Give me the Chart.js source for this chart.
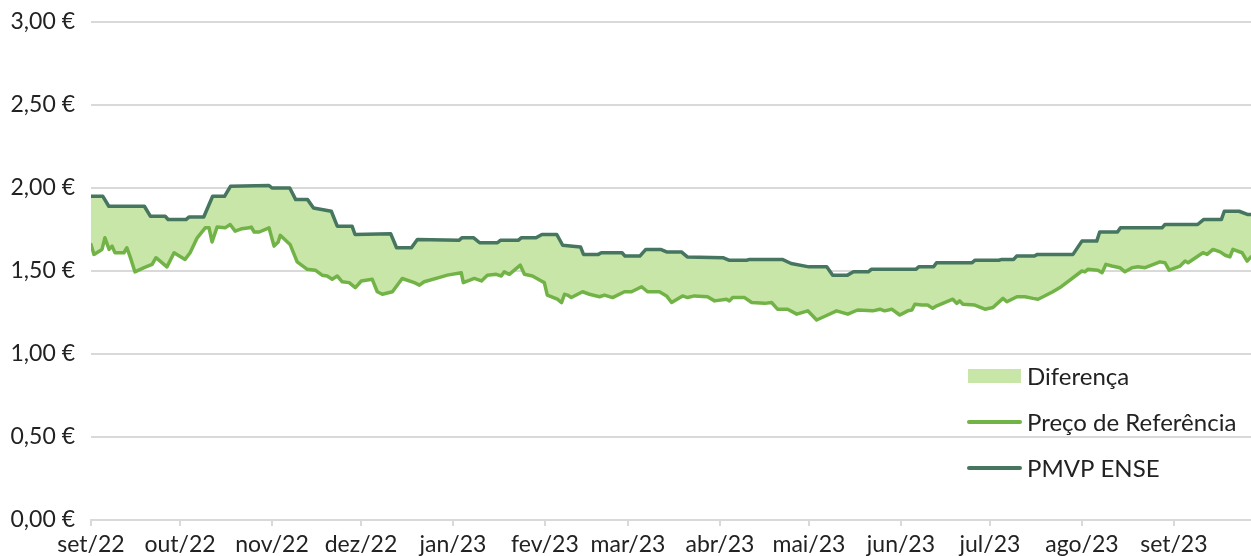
<!DOCTYPE html>
<html>
<head>
<meta charset="utf-8">
<script src="https://cdn.jsdelivr.net/npm/chart.js@4"></script>
<style>
  body { margin: 0; background: #fff; }
  #wrap { width: 1251px; height: 556px; position: relative; }
</style>
</head>
<body>
<div id="wrap"><canvas id="myChart"></canvas></div>
<script>
// dias contados a partir de 1 set 2022
const monthDays = [0, 30, 61, 91, 122, 153, 181, 212, 242, 273, 303, 334, 365];
const monthLabels = ['set/22', 'out/22', 'nov/22', 'dez/22', 'jan/23', 'fev/23', 'mar/23',
    'abr/23', 'mai/23', 'jun/23', 'jul/23', 'ago/23', 'set/23'];

const pmvpDays = [0, 4, 6, 18, 20, 25, 26, 32, 33, 38, 41, 45, 47, 60, 61, 67, 69, 73, 75, 81, 83, 88, 89,
    101, 103, 108, 110, 124, 125, 129, 131, 137, 138, 144, 145, 150, 152, 157, 159, 165, 166, 171, 172,
    179, 180, 185, 187, 192, 194, 199, 201, 213, 215, 221, 222, 233, 236, 242, 248, 250, 255, 257, 262,
    263, 278, 279, 284, 285, 297, 298, 306, 307, 311, 312, 318, 319, 331, 334, 339, 340, 346, 347, 361,
    362, 373, 375, 381, 382, 387, 390, 391];
const pmvpPrices = [1.95, 1.95, 1.89, 1.89, 1.83, 1.83, 1.81, 1.81, 1.825, 1.825, 1.95, 1.95, 2.01, 2.015,
    2.00, 2.00, 1.93, 1.93, 1.88, 1.86, 1.77, 1.77, 1.72, 1.725, 1.64, 1.64, 1.69, 1.685, 1.70, 1.70, 1.67,
    1.67, 1.685, 1.685, 1.70, 1.70, 1.72, 1.72, 1.655, 1.645, 1.60, 1.60, 1.61, 1.61, 1.59, 1.59, 1.63, 1.63,
    1.615, 1.615, 1.585, 1.58, 1.565, 1.565, 1.57, 1.57, 1.545, 1.525, 1.525, 1.475, 1.475, 1.495, 1.495,
    1.51, 1.51, 1.525, 1.525, 1.55, 1.55, 1.565, 1.565, 1.57, 1.57, 1.59, 1.59, 1.60, 1.60, 1.68, 1.68,
    1.735, 1.735, 1.76, 1.76, 1.78, 1.78, 1.81, 1.81, 1.86, 1.86, 1.84, 1.84];

const refDays = [0, 1, 3.7, 4.7, 6.1, 7.1, 8.1, 11.1, 12.1, 13.2, 14.8, 17.9, 20.6, 21.9, 25.6, 28, 31.7,
    33.4, 35.8, 38.5, 39.8, 40.8, 42.5, 45.2, 46.9, 48.6, 50.9, 53.3, 54, 55, 56.7, 60, 61.7, 63.1, 63.8,
    67.1, 69.5, 72.9, 75.6, 77.9, 79.6, 81.3, 83, 84.7, 87, 89.1, 91.1, 94.8, 96.5, 98.2, 101.6, 104.9, 109,
    110.7, 112.3, 118.1, 120.1, 124.8, 125.5, 129.2, 131.6, 133.6, 136.6, 138.3, 139.3, 141, 144.7, 146.1,
    148.8, 151.8, 152.8, 153.8, 157.2, 158.6, 159.6, 160.6, 161.9, 165.7, 168, 171.4, 173.1, 175.8, 179.8,
    182.2, 185.6, 187.6, 191.6, 194, 195.7, 199.4, 201.1, 203.4, 207.8, 210.2, 214.2, 215.2, 216.3, 220.3,
    222.7, 227.1, 229.4, 231.4, 234.8, 237.9, 241.6, 244.6, 248.3, 251.3, 255.1, 258.4, 263.5, 265.9, 267.5,
    269.9, 272.6, 275.3, 276.7, 277.7, 280, 282, 283.7, 285.1, 287.1, 290.5, 291.8, 292.8, 293.9, 297.9,
    301.3, 304, 307.4, 308.7, 312.1, 314.8, 317.5, 319.2, 320.9, 324.2, 326.6, 334, 335, 336, 339.4, 340.8,
    342.1, 344.1, 346.8, 348.5, 350.9, 352.9, 355.3, 360.3, 362, 363.4, 367.1, 368.8, 369.8, 374.8, 376.2,
    378.2, 380.6, 382.3, 383.9, 384.9, 388, 389.7, 391];
const refPrices = [1.66, 1.60, 1.63, 1.70, 1.63, 1.65, 1.61, 1.61, 1.64, 1.585, 1.495, 1.52, 1.54, 1.58,
    1.525, 1.61, 1.57, 1.61, 1.70, 1.76, 1.76, 1.675, 1.765, 1.76, 1.78, 1.74, 1.755, 1.76, 1.765, 1.735,
    1.735, 1.76, 1.65, 1.675, 1.715, 1.66, 1.555, 1.51, 1.505, 1.475, 1.47, 1.45, 1.47, 1.435, 1.43, 1.40,
    1.44, 1.45, 1.375, 1.36, 1.375, 1.455, 1.43, 1.415, 1.435, 1.465, 1.475, 1.49, 1.43, 1.455, 1.44, 1.475,
    1.48, 1.47, 1.495, 1.48, 1.535, 1.48, 1.47, 1.44, 1.43, 1.355, 1.33, 1.31, 1.36, 1.355, 1.34, 1.375,
    1.36, 1.345, 1.355, 1.34, 1.375, 1.375, 1.405, 1.375, 1.375, 1.35, 1.31, 1.35, 1.34, 1.35, 1.345, 1.32,
    1.33, 1.32, 1.34, 1.34, 1.31, 1.305, 1.31, 1.27, 1.27, 1.24, 1.26, 1.205, 1.235, 1.26, 1.24, 1.265, 1.26,
    1.27, 1.26, 1.27, 1.235, 1.26, 1.265, 1.30, 1.295, 1.295, 1.275, 1.29, 1.305, 1.33, 1.305, 1.32, 1.30,
    1.295, 1.27, 1.28, 1.335, 1.315, 1.345, 1.345, 1.335, 1.33, 1.345, 1.375, 1.40, 1.50, 1.495, 1.51,
    1.505, 1.49, 1.54, 1.53, 1.52, 1.495, 1.52, 1.525, 1.52, 1.555, 1.55, 1.505, 1.53, 1.56, 1.55, 1.61,
    1.60, 1.63, 1.615, 1.595, 1.585, 1.63, 1.61, 1.56, 1.585];

const FONT = 'Lato';
const darkGreen = '#467560';
const lightGreen = '#72b347';
const fillGreen = '#c8e6a8';
const gridGray = '#d9d9d9';

const toPoints = (days, vals) => days.map((d, i) => ({ x: d, y: vals[i] }));

// legenda dentro da area do grafico, canto inferior direito
const insideLegend = {
    id: 'insideLegend',
    afterDraw(chart) {
        const ctx = chart.ctx;
        const a = chart.chartArea;
        const x0 = a.right - 283;
        let y = a.top + 354;
        ctx.save();
        ctx.font = '24px ' + FONT;
        ctx.fillStyle = '#222';
        ctx.textBaseline = 'middle';
        chart.data.datasets.forEach(ds => {
            if (ds.label === 'Diferença') {
                ctx.fillStyle = ds.backgroundColor;
                ctx.fillRect(x0, y - 7, 53, 14);
            } else {
                ctx.strokeStyle = ds.borderColor;
                ctx.lineWidth = 4;
                ctx.lineCap = 'round';
                ctx.beginPath();
                ctx.moveTo(x0 + 1, y);
                ctx.lineTo(x0 + 52, y);
                ctx.stroke();
            }
            ctx.fillStyle = '#222';
            ctx.fillText(ds.label, x0 + 59, y + 1);
            y += 46;
        });
        ctx.restore();
    }
};

var ctx = document.getElementById('myChart').getContext('2d');
var myChart = new Chart(ctx, {
    type: 'line',
    data: {
        datasets: [{
            label: 'Diferença',
            data: toPoints(pmvpDays, pmvpPrices),
            borderColor: 'transparent',
            backgroundColor: fillGreen,
            fill: 1,
            pointRadius: 0,
            order: 3
        }, {
            label: 'Preço de Referência',
            data: toPoints(refDays, refPrices),
            borderColor: lightGreen,
            borderWidth: 3.5,
            fill: false,
            pointRadius: 0,
            order: 2
        }, {
            label: 'PMVP ENSE',
            data: toPoints(pmvpDays, pmvpPrices),
            borderColor: darkGreen,
            borderWidth: 3.5,
            fill: false,
            pointRadius: 0,
            order: 1
        }]
    },
    options: {
        responsive: true,
        maintainAspectRatio: false,
        animation: false,
        layout: { padding: { top: 22, right: 0, left: 0, bottom: 0 } },
        elements: { line: { tension: 0, borderJoinStyle: 'round', borderCapStyle: 'round' } },
        plugins: {
            legend: { display: false },
            tooltip: { enabled: false },
            filler: { drawTime: 'beforeDatasetsDraw' }
        },
        scales: {
            x: {
                type: 'linear',
                min: 0,
                max: 391,
                afterBuildTicks: scale => {
                    scale.ticks = monthDays.map(v => ({ value: v }));
                },
                afterFit: scale => { scale.height = 36; },
                ticks: {
                    autoSkip: false,
                    maxRotation: 0,
                    padding: 5,
                    color: '#222',
                    font: { family: FONT, size: 23 },
                    callback: (v, i) => monthLabels[i]
                },
                grid: { drawOnChartArea: false, tickLength: 6, color: gridGray, lineWidth: 2 },
                border: { color: gridGray, width: 2 }
            },
            y: {
                min: 0,
                max: 3,
                afterFit: scale => {
                    scale.width = 91;
                    scale.paddingTop = 0;
                    scale.paddingBottom = 0;
                },
                ticks: {
                    stepSize: 0.5,
                    padding: 16,
                    color: '#222',
                    font: { family: FONT, size: 23 },
                    callback: v => v.toFixed(2).replace('.', ',') + ' €'
                },
                grid: { drawTicks: false, color: gridGray, lineWidth: 2 },
                border: { display: false }
            }
        }
    },
    plugins: [insideLegend]
});
</script>
</body>
</html>
